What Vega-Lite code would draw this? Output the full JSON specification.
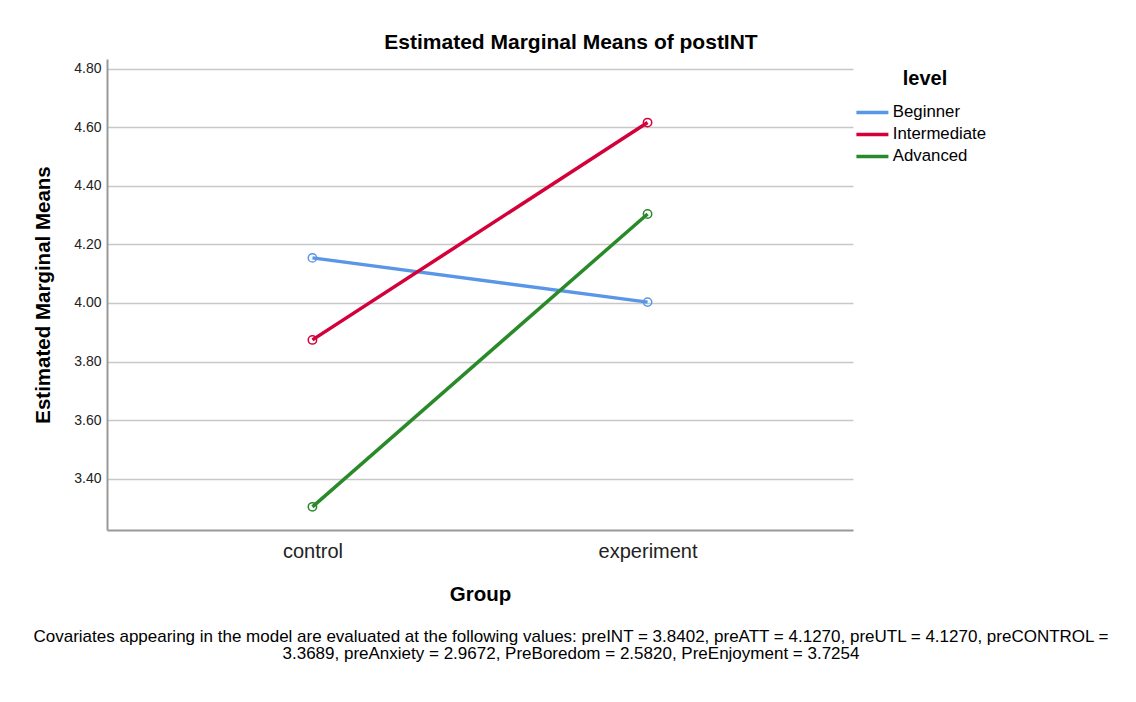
{
  "$schema": "https://vega.github.io/schema/vega-lite/v6.json",
  "background": "white",
  "padding": {"left": 32, "top": 32, "right": 5, "bottom": 5},
  "autosize": {"type": "pad"},
  "title": {
    "text": "Estimated Marginal Means of postINT",
    "font": "Liberation Sans",
    "fontSize": 21,
    "fontWeight": "bold",
    "color": "#000000",
    "anchor": "middle",
    "offset": 6
  },
  "vconcat": [
    {
      "width": 746,
      "height": 471,
      "title": {
        "text": [
          "Covariates appearing in the model are evaluated at the following values: preINT = 3.8402, preATT = 4.1270, preUTL = 4.1270, preCONTROL =",
          "3.3689, preAnxiety = 2.9672, PreBoredom = 2.5820, PreEnjoyment = 3.7254"
        ],
        "orient": "bottom",
        "anchor": "middle",
        "frame": "group",
        "dx": 91,
        "font": "Liberation Sans",
        "fontSize": 17,
        "fontWeight": "normal",
        "color": "#000000",
        "lineHeight": 17.5,
        "offset": 24
      },
      "data": {
        "values": [
          {"Group": "control", "level": "Beginner", "mean": 4.154},
          {"Group": "experiment", "level": "Beginner", "mean": 4.003},
          {"Group": "control", "level": "Intermediate", "mean": 3.874},
          {"Group": "experiment", "level": "Intermediate", "mean": 4.616},
          {"Group": "control", "level": "Advanced", "mean": 3.304},
          {"Group": "experiment", "level": "Advanced", "mean": 4.304}
        ]
      },
      "encoding": {
        "x": {
          "field": "Group",
          "type": "nominal",
          "sort": ["control", "experiment"],
          "scale": {"type": "point", "padding": 0.613},
          "axis": {
            "title": "Group",
            "labelAngle": 0,
            "labelFont": "Liberation Sans",
            "labelFontSize": 20,
            "labelColor": "#222222",
            "labelPadding": 11,
            "ticks": false,
            "domainColor": "#999999",
            "domainWidth": 2,
            "grid": false,
            "titleFont": "Liberation Sans",
            "titleFontSize": 20.5,
            "titleFontWeight": "bold",
            "titleColor": "#000000",
            "titlePadding": 23
          }
        },
        "y": {
          "field": "mean",
          "type": "quantitative",
          "scale": {"domain": [3.225, 4.833], "nice": false, "zero": false},
          "axis": {
            "title": "Estimated Marginal Means",
            "values": [3.4, 3.6, 3.8, 4.0, 4.2, 4.4, 4.6, 4.8],
            "format": ".2f",
            "labelFont": "Liberation Sans",
            "labelFontSize": 14,
            "labelColor": "#222222",
            "labelPadding": 6,
            "ticks": false,
            "domainColor": "#999999",
            "domainWidth": 2,
            "grid": true,
            "gridColor": "#c8c8c8",
            "gridWidth": 1.5,
            "titleFont": "Liberation Sans",
            "titleFontSize": 20.5,
            "titleFontWeight": "bold",
            "titleColor": "#000000",
            "titlePadding": 20
          }
        },
        "color": {
          "field": "level",
          "type": "nominal",
          "scale": {
            "domain": ["Beginner", "Intermediate", "Advanced"],
            "range": ["#5a96e8", "#d4003a", "#2a8a2a"]
          },
          "legend": {
            "title": "level",
            "orient": "none",
            "legendX": 757,
            "legendY": 10,
            "symbolType": "M-3.2,0H3.2",
            "symbolSize": 100,
            "symbolStrokeWidth": 3.5,
            "labelFont": "Liberation Sans",
            "labelFontSize": 16.8,
            "labelColor": "#000000",
            "labelOffset": 12,
            "titleFont": "Liberation Sans",
            "titleFontSize": 20,
            "titleFontWeight": "bold",
            "titleColor": "#000000",
            "titleAnchor": "middle",
            "titlePadding": 15,
            "rowPadding": 4,
            "padding": 0
          }
        }
      },
      "layer": [
        {"mark": {"type": "line", "strokeWidth": 3.5}},
        {"mark": {"type": "point", "shape": "circle", "filled": false, "size": 70, "strokeWidth": 1.5, "opacity": 1}}
      ]
    }
  ],
  "config": {"view": {"stroke": null}}
}
